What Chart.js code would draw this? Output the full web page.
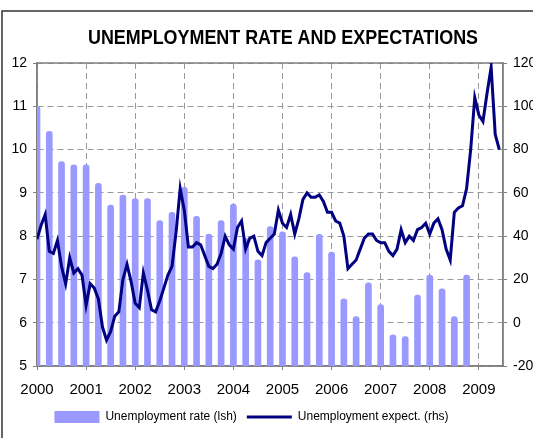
<!DOCTYPE html>
<html>
<head>
<meta charset="utf-8">
<script src="https://cdn.jsdelivr.net/npm/chart.js@4.4.1/dist/chart.umd.min.js"></script>
<style>
  html, body { margin: 0; padding: 0; background: #fff; }
  #wrap { width: 533px; height: 438px; }
</style>
</head>
<body>
<div id="wrap"><canvas id="unempChart" width="533" height="438"></canvas></div>
<script>
var yearLabels = ['2000', '2001', '2002', '2003', '2004', '2005', '2006', '2007', '2008', '2009'];

// unemployment rate, quarterly 2000Q1 - 2008Q4 (lhs, %)
var rateValues = [
    11.0, 10.42, 9.72, 9.65,
    9.65, 9.22, 8.72, 8.95,
    8.87, 8.87, 8.36, 8.55,
    9.13, 8.46, 8.05, 8.36,
    8.74, 7.95, 7.45, 8.22,
    8.1, 7.52, 7.16, 8.04,
    7.63, 6.55, 6.14, 6.92,
    6.42, 5.72, 5.68, 6.64,
    7.10, 6.78, 6.14, 7.10
];

// unemployment expectations, monthly from Jan 2000 (rhs)
var expectValues = [
    38.6, 45, 50, 33, 32, 38, 26, 18, 30, 23, 25, 22,
    8, 18, 16, 11, -2, -8, -4, 3, 5, 20, 27, 19,
    9, 7, 23, 15, 6, 5, 10, 16, 22, 26, 42, 62,
    52, 35, 35, 37, 36, 31, 26, 25, 27, 32, 40, 36,
    34, 44, 47, 34, 39, 40, 33, 31, 37, 39, 41, 52,
    46, 44, 50, 41, 48, 57, 60, 58, 58, 59, 56, 51,
    51, 47, 46, 40, 25, 27, 29, 34, 39, 41, 41, 38,
    37, 37, 33, 31, 34, 43, 37, 40, 38, 43, 44, 46,
    41, 46, 48, 43, 34, 29, 51, 53, 54, 62, 80, 104,
    96, 93, 106, 118, 87, 80
];

var sans = "'Liberation Sans', Arial, sans-serif";

var framePlugin = {
    id: 'frame',
    afterLayout: function (chart) {
        // legend is centred under the plot, not under the whole page
        chart.legend.right = chart.chartArea.right;
    },
    beforeDatasetsDraw: function (chart) {
        var a = chart.chartArea, c = chart.ctx;
        c.save();
        c.strokeStyle = '#808080';
        c.lineWidth = 1.5;
        c.strokeRect(a.left, a.top, a.right - a.left, a.bottom - a.top);
        c.restore();
    },
    afterDraw: function (chart) {
        var c = chart.ctx;
        c.save();
        // outer border
        c.strokeStyle = '#333';
        c.lineWidth = 1.5;
        c.beginPath();
        c.moveTo(2, 438);
        c.lineTo(2, 11);
        c.lineTo(533, 11);
        c.stroke();
        // title, condensed like the original
        c.fillStyle = '#000';
        c.font = 'bold 21px ' + sans;
        c.textAlign = 'center';
        c.textBaseline = 'middle';
        c.translate(283, 38);
        c.scale(0.853, 1);
        c.fillText('UNEMPLOYMENT RATE AND EXPECTATIONS', 0, 0);
        c.restore();
    }
};

var ctx = document.getElementById('unempChart').getContext('2d');

new Chart(ctx, {
    type: 'bar',
    data: {
        datasets: [{
            type: 'bar',
            label: 'Unemployment rate (lsh)',
            data: rateValues.map(function (v, i) { return { x: i * 3, y: v }; }),
            yAxisID: 'yL',
            backgroundColor: '#9999ff',
            barThickness: 6,
            borderRadius: 3,
            pointStyle: 'rect',
            order: 2
        }, {
            type: 'line',
            label: 'Unemployment expect. (rhs)',
            data: expectValues.map(function (v, i) { return { x: i, y: v }; }),
            yAxisID: 'yR',
            borderColor: '#000080',
            backgroundColor: '#000080',
            borderWidth: 3,
            pointRadius: 0,
            tension: 0,
            fill: false,
            pointStyle: 'line',
            order: 1
        }]
    },
    options: {
        responsive: false,
        animation: false,
        devicePixelRatio: 1,
        layout: { padding: { top: 63, right: 0, bottom: 5, left: 0 } },
        plugins: {
            tooltip: { enabled: false },
            legend: {
                position: 'bottom',
                labels: {
                    usePointStyle: true,
                    pointStyleWidth: 45,
                    boxHeight: 13,
                    padding: 10,
                    color: '#000',
                    font: { family: sans, size: 12 },
                    sort: function (a, b) { return a.datasetIndex - b.datasetIndex; }
                }
            }
        },
        scales: {
            x: {
                type: 'linear',
                offset: false,
                min: 0,
                max: 113.9,
                afterBuildTicks: function (s) {
                    s.ticks = yearLabels.map(function (y, i) { return { value: i * 12 }; });
                },
                afterFit: function (s) { s.height = 35; },
                ticks: {
                    callback: function (v) { return yearLabels[Math.round(v / 12)]; },
                    autoSkip: false,
                    maxRotation: 0,
                    padding: 11,
                    color: '#000',
                    font: { family: sans, size: 15 }
                },
                grid: { offset: false, color: '#999', tickLength: 4, tickColor: '#808080' },
                border: { dash: [6, 4], color: '#808080', width: 1.5 }
            },
            yL: {
                position: 'left',
                min: 5,
                max: 12,
                afterFit: function (s) { s.width = 37; },
                ticks: {
                    stepSize: 1,
                    padding: 6,
                    color: '#000',
                    font: { family: sans, size: 14 }
                },
                grid: { color: '#999', tickLength: 4, tickColor: '#808080' },
                border: { dash: [6, 4], color: '#808080', width: 1.5 }
            },
            yR: {
                position: 'right',
                min: -20,
                max: 120,
                afterFit: function (s) { s.width = 30; },
                ticks: {
                    stepSize: 20,
                    padding: 6,
                    color: '#000',
                    font: { family: sans, size: 14 }
                },
                grid: { drawOnChartArea: false, tickLength: 4, tickColor: '#808080' },
                border: { color: '#808080', width: 1.5 }
            }
        }
    },
    plugins: [framePlugin]
});
</script>
</body>
</html>
